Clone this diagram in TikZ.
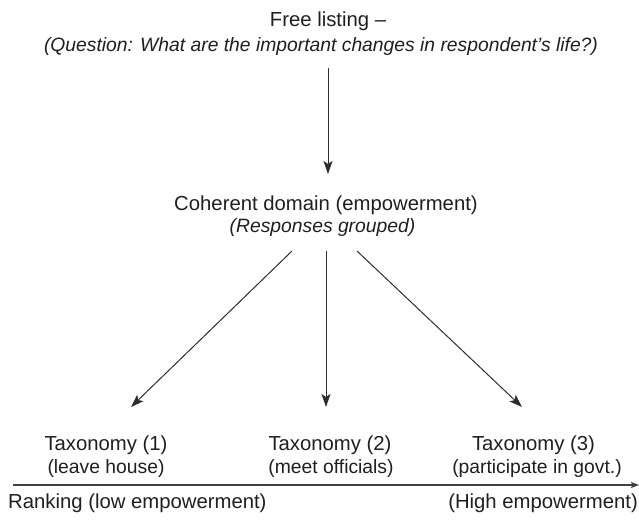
\documentclass[tikz,border=0pt]{standalone}
\usepackage{fontspec}
\setmainfont{Liberation Sans}
\usetikzlibrary{arrows.meta}
\begin{document}
\begin{tikzpicture}[x=1pt,y=1pt,
  main/.style={font=\fontsize{20.3}{24}\selectfont, text=black!88, anchor=base, inner sep=0pt},
  sub/.style={font=\fontsize{19.3}{23}\selectfont, text=black!88, anchor=base, inner sep=0pt},
  subit/.style={sub, font=\fontsize{19.3}{23}\selectfont\itshape},
  conn/.style={draw=black!82, line width=1pt, -{Stealth[length=13pt,width=9pt,inset=3pt]}}]
\useasboundingbox (0,0) rectangle (639,523);
% top
\node[main] (fl) at (328,496) {Free listing --};
\node[subit] (q) at (321,471) {(Question: What are the important changes in respondent’s life?)};
\coordinate (a0s) at (328,455);
\coordinate (a0e) at (328,349);
\draw[conn] (a0s) -- (a0e);
% coherent domain
\node[main] (cd) at (326,313) {Coherent domain (empowerment)};
\node[subit] (rg) at (322.5,291) {(Responses grouped)};
\coordinate (a1s) at (292,272);
\coordinate (a2s) at (326,272);
\coordinate (a3s) at (357,272);
% taxonomies
\node[main] (t1) at (106,73) {Taxonomy (1)};
\node[sub] (s1) at (106,50) {(leave house)};
\node[main] (t2) at (330,73) {Taxonomy (2)};
\node[sub] (s2) at (331,50) {(meet officials)};
\node[main] (t3) at (533.5,73) {Taxonomy (3)};
\node[sub] (s3) at (537,50) {(participate in govt.)};
\coordinate (a1e) at (131,116);
\coordinate (a2e) at (326,116);
\coordinate (a3e) at (522,116);
\draw[conn] (a1s) -- (a1e);
\draw[conn] (a2s) -- (a2e);
\draw[conn] (a3s) -- (a3e);
% axis
\coordinate (ax0) at (13,38);
\coordinate (ax1) at (639,38);
\draw[draw=black!75, line width=1.3pt, -{Stealth[length=8pt,width=6pt,inset=1.5pt]}] (ax0) -- (ax1);
\node[main, anchor=base west] (rk) at (8,15) {Ranking (low empowerment)};
\node[main, anchor=base east] (he) at (638,15) {(High empowerment)};
\end{tikzpicture}
\end{document}
